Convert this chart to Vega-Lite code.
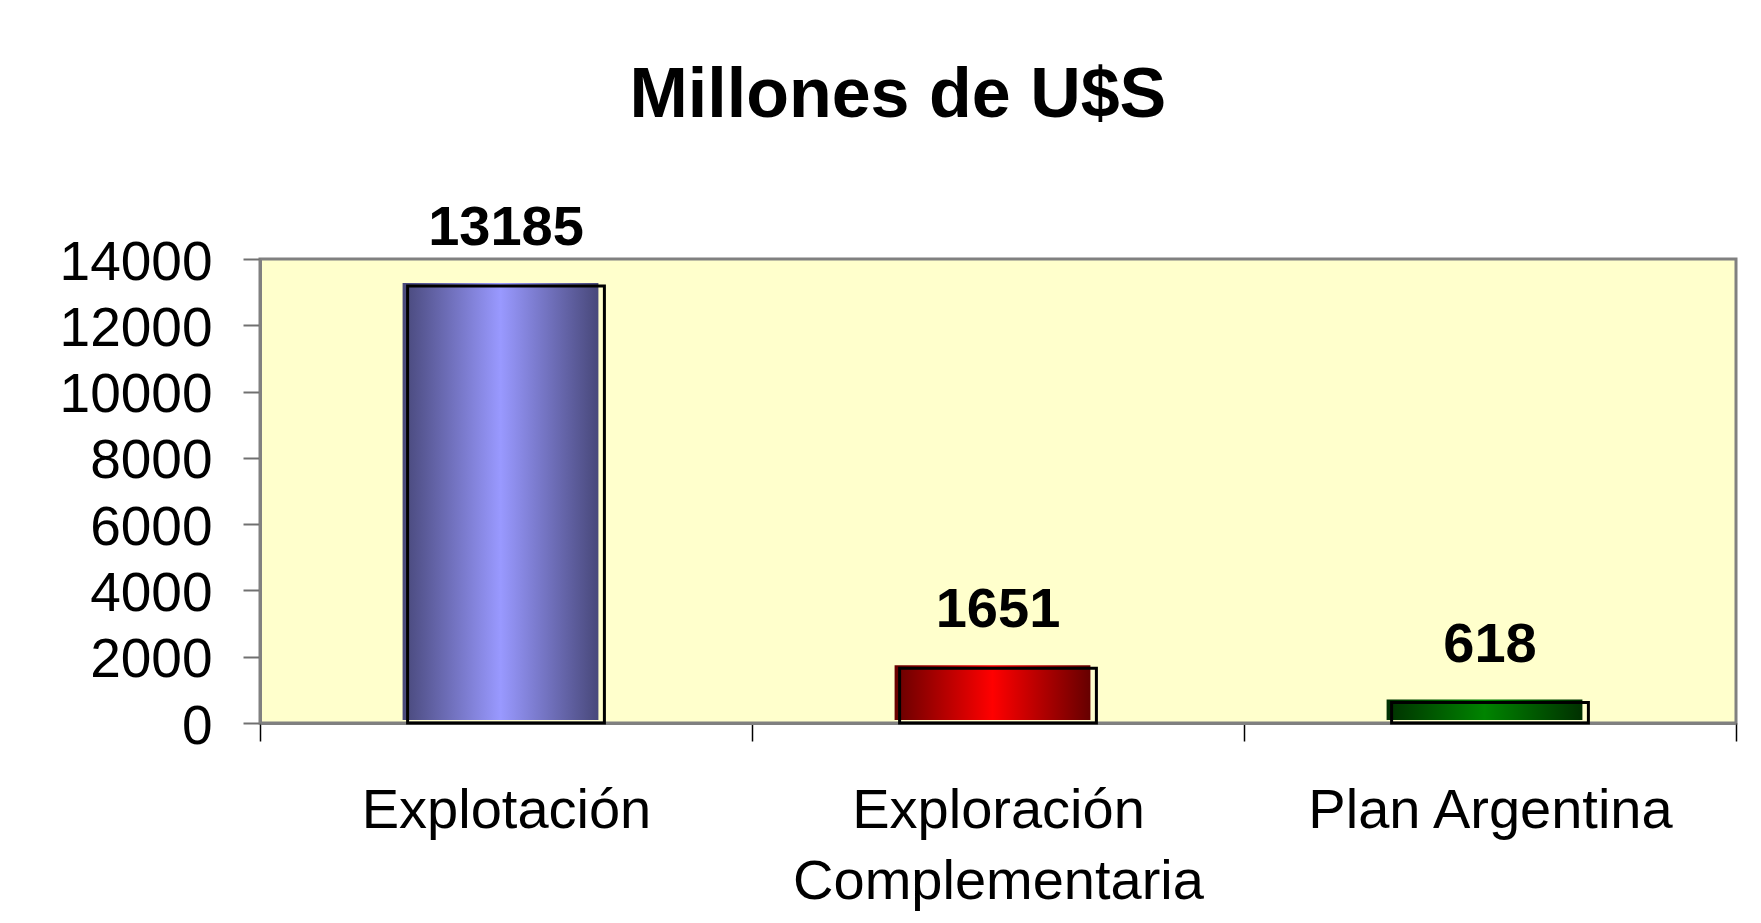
{
  "$schema": "https://vega.github.io/schema/vega-lite/v6.json",
  "autosize": {"type": "none"},
  "width": 1476,
  "height": 464,
  "padding": {"left": 260, "top": 259, "right": 25, "bottom": 200},
  "background": "white",
  "title": {
    "text": "Millones de U$S",
    "font": "Liberation Sans",
    "fontSize": 70,
    "fontWeight": "bold",
    "color": "black",
    "anchor": "middle",
    "frame": "bounds",
    "baseline": "alphabetic",
    "offset": 13
  },
  "data": {
    "values": [
      {"cat": "Explotación", "value": 13185},
      {"cat": "Exploración Complementaria", "value": 1651},
      {"cat": "Plan Argentina", "value": 618}
    ]
  },
  "encoding": {
    "x": {
      "field": "cat",
      "type": "nominal",
      "sort": null,
      "scale": {"paddingInner": 0, "paddingOuter": 0},
      "axis": {
        "title": null,
        "labelAngle": 0,
        "labelLimit": 0,
        "labelFont": "Liberation Sans",
        "labelFontSize": 56,
        "labelColor": "black",
        "labelPadding": 42,
        "labelLineHeight": 71,
        "labelExpr": "datum.label == 'Exploración Complementaria' ? ['Exploración', 'Complementaria'] : datum.label",
        "tickBand": "extent",
        "tickSize": 18,
        "tickColor": "black",
        "tickWidth": 1.5,
        "domainColor": "#808080",
        "domainWidth": 3
      }
    },
    "y": {
      "field": "value",
      "type": "quantitative",
      "scale": {"domain": [0, 14000], "nice": false},
      "axis": {
        "title": null,
        "values": [0, 2000, 4000, 6000, 8000, 10000, 12000, 14000],
        "format": "d",
        "grid": false,
        "labelFont": "Liberation Sans",
        "labelFontSize": 55,
        "labelColor": "black",
        "labelPadding": 31,
        "labelOffset": 3,
        "tickSize": 17,
        "tickColor": "#707070",
        "tickWidth": 2,
        "domainColor": "#808080",
        "domainWidth": 3
      }
    }
  },
  "layer": [
    {
      "mark": {"type": "bar", "width": {"band": 0.398}, "xOffset": -5.5, "yOffset": -3, "y2Offset": -3},
      "encoding": {
        "fill": {
          "condition": [
            {"test": "datum.cat === 'Explotación'", "value": {"gradient": "linear", "x1": 0, "x2": 1, "y1": 0, "y2": 0, "stops": [{"offset": 0, "color": "#48487a"}, {"offset": 0.5, "color": "#9999ff"}, {"offset": 1, "color": "#48487a"}]}},
            {"test": "datum.cat === 'Exploración Complementaria'", "value": {"gradient": "linear", "x1": 0, "x2": 1, "y1": 0, "y2": 0, "stops": [{"offset": 0, "color": "#660000"}, {"offset": 0.5, "color": "#ff0000"}, {"offset": 1, "color": "#660000"}]}}
          ],
          "value": {"gradient": "linear", "x1": 0, "x2": 1, "y1": 0, "y2": 0, "stops": [{"offset": 0, "color": "#003000"}, {"offset": 0.5, "color": "#008400"}, {"offset": 1, "color": "#003000"}]}
        }
      }
    },
    {
      "mark": {"type": "bar", "width": {"band": 0.4}, "fillOpacity": 0, "stroke": "black", "strokeWidth": 3}
    },
    {
      "mark": {"type": "text", "font": "Liberation Sans", "fontSize": 56, "fontWeight": "bold", "color": "black", "baseline": "alphabetic", "dy": -41},
      "encoding": {"text": {"field": "value", "type": "quantitative", "format": "d"}}
    }
  ],
  "config": {
    "view": {"fill": "#ffffcc", "stroke": "#808080", "strokeWidth": 3}
  }
}
